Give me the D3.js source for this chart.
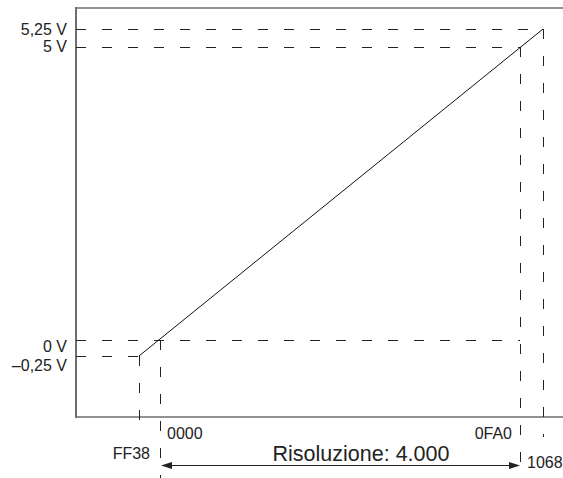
<!DOCTYPE html>
<html><head><meta charset="utf-8">
<script src="https://cdn.jsdelivr.net/npm/d3@7"></script>
<style>body{margin:0;background:#fff}svg{display:block}text{font-family:"Liberation Sans",Arial,Helvetica,sans-serif;fill:#222}</style>
</head><body>
<script>
// Data
const codes = ["FF38", "0000", "0FA0", "1068"];
const codeValues = [-200, 0, 4000, 4200];
const volts = [-0.25, 0, 5, 5.25];
const voltLabels = ["\u20130,25 V", "0 V", "5 V", "5,25 V"];
const resolutionLabel = "Risoluzione: 4.000";

const W = 563, H = 478;
const svg = d3.select("body").append("svg").attr("width", W).attr("height", H);

// schematic (piecewise-linear) scales
const x = d3.scaleLinear().domain(codeValues).range([139, 160, 520, 543]);
const y = d3.scaleLinear().domain(volts).range([356, 340, 47, 29]);

const frameLeft = 76, frameTop = 8, frameBottom = 417;
const frame = "#6e6e6e";
svg.append("line").attr("x1", frameLeft).attr("x2", frameLeft).attr("y1", frameTop - 1).attr("y2", frameBottom + 1)
  .attr("stroke", frame).attr("stroke-width", 2);
svg.append("line").attr("x1", frameLeft).attr("x2", W).attr("y1", frameTop).attr("y2", frameTop)
  .attr("stroke", frame).attr("stroke-width", 1.6);
svg.append("line").attr("x1", frameLeft).attr("x2", W).attr("y1", frameBottom).attr("y2", frameBottom)
  .attr("stroke", frame).attr("stroke-width", 1.6);

// transfer line points
const pts = codeValues.map((c, i) => [c, volts[i]]);
const dash = "10,16";

// horizontal guides
const hEnd = [-200, 4000, 4000, 4200];
svg.selectAll(".hg").data(volts).join("line").attr("class", "hg")
  .attr("x1", frameLeft).attr("x2", (d, i) => x(hEnd[i]))
  .attr("y1", d => y(d) + 0.5).attr("y2", d => y(d) + 0.5)
  .attr("stroke", "#222").attr("stroke-width", 1).attr("stroke-dasharray", dash);

// vertical guides
const vEnd = [420, 478, 478, 437];
svg.selectAll(".vg").data(pts).join("line").attr("class", "vg")
  .attr("x1", d => x(d[0]) + 0.5).attr("x2", d => x(d[0]) + 0.5)
  .attr("y1", d => y(d[1])).attr("y2", (d, i) => vEnd[i])
  .attr("stroke", "#222").attr("stroke-width", 1).attr("stroke-dasharray", "10,17");

// main line
svg.append("path").datum([pts[0], pts[3]])
  .attr("d", d3.line().x(d => x(d[0])).y(d => y(d[1])))
  .attr("fill", "none").attr("stroke", "#111").attr("stroke-width", 1);

// y labels
const yDy = [15, 12, 5, 6];
svg.selectAll(".yl").data(volts).join("text").attr("class", "yl")
  .attr("x", 67).attr("y", (d, i) => y(d) + yDy[i])
  .attr("text-anchor", "end").attr("font-size", 16)
  .text((d, i) => voltLabels[i]);

// x labels
const xDx = [11, 7, -8, -16];
const xBase = [459, 439, 439, 468];
const xAnchor = ["end", "start", "end", "start"];
svg.selectAll(".xl").data(codeValues).join("text").attr("class", "xl")
  .attr("x", (d, i) => x(d) + xDx[i]).attr("y", (d, i) => xBase[i])
  .attr("text-anchor", (d, i) => xAnchor[i]).attr("font-size", 16)
  .text((d, i) => codes[i]);

// resolution arrow
const ay = 465.5;
const x0 = x(0) + 1, x1 = x(4000);
svg.append("line").attr("x1", x0 + 8).attr("x2", x1 - 8).attr("y1", ay).attr("y2", ay)
  .attr("stroke", "#222").attr("stroke-width", 1);
svg.append("path").attr("d", `M${x0},${ay}L${x0 + 11},${ay - 3.5}L${x0 + 11},${ay + 3.5}Z`).attr("fill", "#222");
svg.append("path").attr("d", `M${x1},${ay}L${x1 - 11},${ay - 3.5}L${x1 - 11},${ay + 3.5}Z`).attr("fill", "#222");

svg.append("text").attr("x", (x(0) + x(4000)) / 2 + 21).attr("y", 461)
  .attr("text-anchor", "middle").attr("font-size", 21.5).text(resolutionLabel);
</script>
</body></html>
